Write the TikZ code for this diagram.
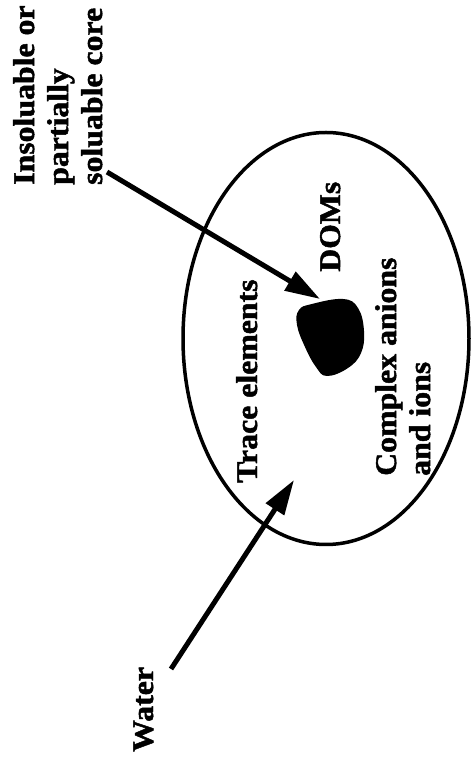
\documentclass[tikz,border=0pt]{standalone}
\usepackage{fontspec}
\setmainfont[FakeStretch=1.06,FakeBold=1.6]{Liberation Serif}
\usetikzlibrary{arrows.meta}
\tikzset{
  lab/.style={font=\fontsize{30}{34}\selectfont\bfseries, inner sep=0pt, rotate=90},
  thickarrow/.style={line width=5pt, -{Triangle[length=35pt,width=21pt]}},
  rim/.style={line width=3.5pt}
}
\begin{document}
\begin{tikzpicture}[x=1pt,y=1pt]
\useasboundingbox (0,0) rectangle (474,761);
% ellipse (water droplet)
\draw[rim] (326,422.5) ellipse [x radius=143, y radius=206];
% core blob
\fill[black] plot[smooth cycle, tension=0.7] coordinates {(312,457) (343,462) (358,453) (364,430) (361,408) (348,393) (327,385) (316,394) (305,414) (297,436) (299,451)};
% labels
\node[lab, align=left, anchor=north west] (core) at (13,576) {Insoluable or\\partially\\soluable core};
\node[lab, anchor=base west] (doms) at (340,489) {DOMs};
\node[lab, anchor=base west] (trace) at (257,278) {Trace elements};
\node[lab, align=left, anchor=north west] (complex) at (375,285) {Complex anions\\and ions};
\node[lab, anchor=base west] (water) at (153,9) {Water};
% arrows
\coordinate (a1s) at (107,589);
\coordinate (a1e) at (320,462);
\coordinate (a2s) at (171,92);
\coordinate (a2e) at (294,281);
\draw[thickarrow] (a1s) -- (a1e);
\draw[thickarrow] (a2s) -- (a2e);
\end{tikzpicture}
\end{document}
